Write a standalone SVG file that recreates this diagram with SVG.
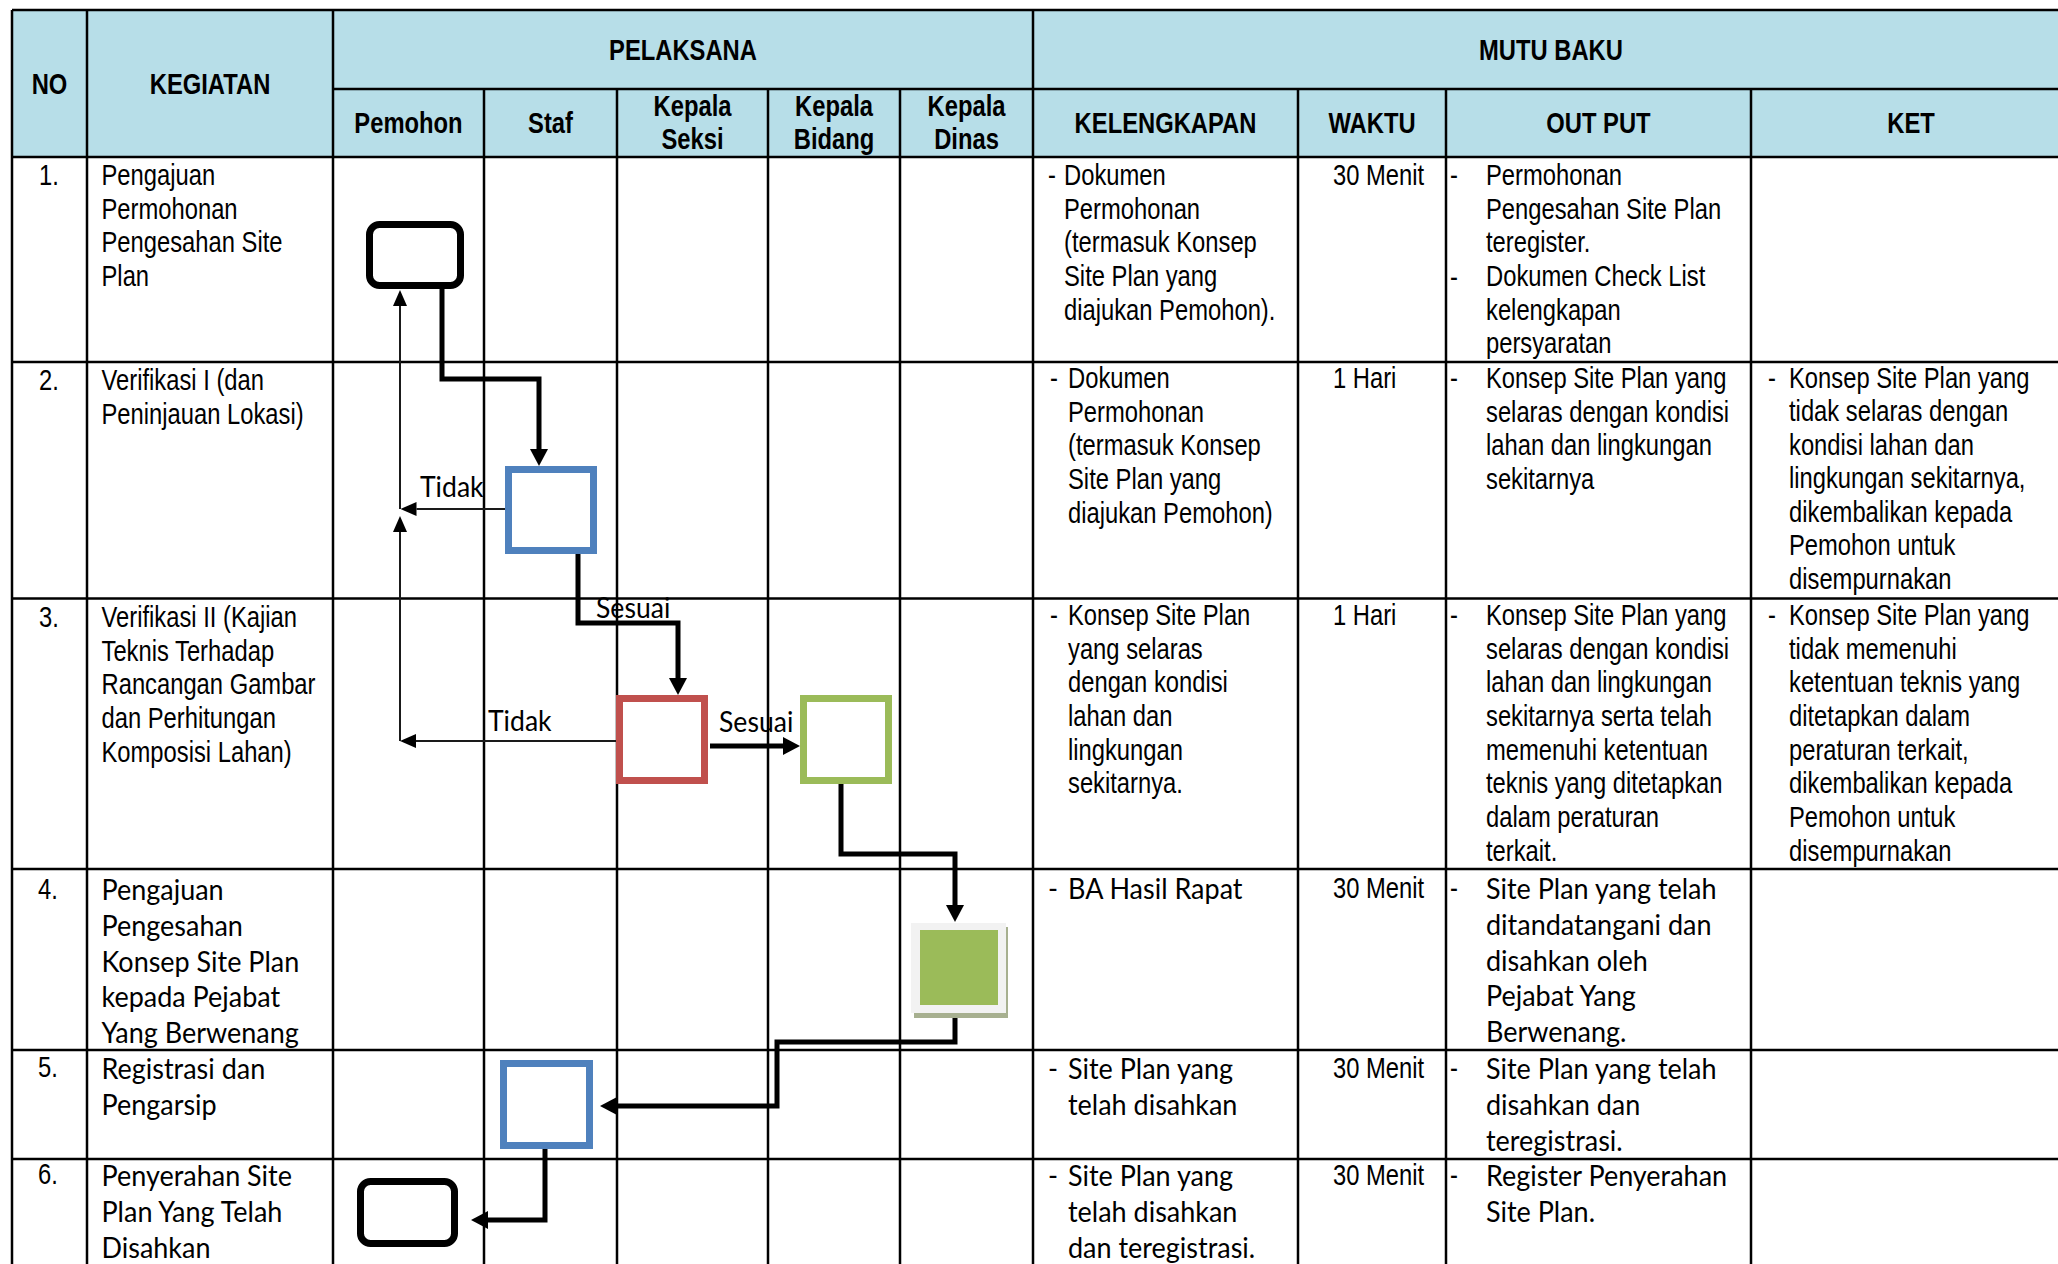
<svg xmlns="http://www.w3.org/2000/svg" width="2058" height="1264" viewBox="0 0 2058 1264">
<style>
.n{font-family:"Liberation Sans",Arial,sans-serif;font-size:29px;fill:#000}
.b{font-weight:bold}
.c{font-family:Lato,"Open Sans",sans-serif;font-size:29px;fill:#000}
.lb{font-family:Lato,"Open Sans",sans-serif;font-size:28px;fill:#000}
.grid line{stroke:#000;stroke-width:2.5}
.thick{fill:none;stroke:#000;stroke-width:5}
.thin{fill:none;stroke:#1a1a1a;stroke-width:2}
</style>
<defs>
<marker id="ah" markerUnits="userSpaceOnUse" markerWidth="17" markerHeight="18" refX="0" refY="9" orient="auto" viewBox="0 0 17 18">
<path d="M0,0 L17,9 L0,18 z" fill="#000"/>
</marker>
<marker id="at" markerUnits="userSpaceOnUse" markerWidth="16" markerHeight="14" refX="0" refY="7" orient="auto" viewBox="0 0 16 14">
<path d="M0,0 L16,7 L0,14 z" fill="#000"/>
</marker>
</defs>
<rect x="0" y="0" width="2058" height="1264" fill="#fff"/>
<rect x="12" y="10" width="2046" height="147" fill="#B7DEE8"/>
<g class="grid" id="grid">
<line x1="12" y1="10" x2="2058" y2="10"/>
<line x1="333" y1="89" x2="2058" y2="89"/>
<line x1="12" y1="157" x2="2058" y2="157"/>
<line x1="12" y1="362" x2="2058" y2="362"/>
<line x1="12" y1="598.5" x2="2058" y2="598.5"/>
<line x1="12" y1="869" x2="2058" y2="869"/>
<line x1="12" y1="1050" x2="2058" y2="1050"/>
<line x1="12" y1="1159" x2="2058" y2="1159"/>
<line x1="12" y1="10" x2="12" y2="1264"/>
<line x1="87" y1="10" x2="87" y2="1264"/>
<line x1="333" y1="10" x2="333" y2="1264"/>
<line x1="1033" y1="10" x2="1033" y2="1264"/>
<line x1="484" y1="89" x2="484" y2="1264"/>
<line x1="617" y1="89" x2="617" y2="1264"/>
<line x1="768" y1="89" x2="768" y2="1264"/>
<line x1="900" y1="89" x2="900" y2="1264"/>
<line x1="1298" y1="89" x2="1298" y2="1264"/>
<line x1="1446" y1="89" x2="1446" y2="1264"/>
<line x1="1751" y1="89" x2="1751" y2="1264"/>
</g>
<g id="header" text-anchor="middle">
<text class="n b" transform="translate(49.5,94) scale(0.82,1)">NO</text>
<text class="n b" transform="translate(210,94) scale(0.82,1)">KEGIATAN</text>
<text class="n b" transform="translate(683,60) scale(0.82,1)">PELAKSANA</text>
<text class="n b" transform="translate(1551,60) scale(0.82,1)">MUTU BAKU</text>
<text class="n b" transform="translate(408.5,133) scale(0.82,1)">Pemohon</text>
<text class="n b" transform="translate(550.5,133) scale(0.82,1)">Staf</text>
<text class="n b" transform="translate(692.5,116) scale(0.82,1)"><tspan x="0">Kepala</tspan><tspan x="0" dy="33">Seksi</tspan></text>
<text class="n b" transform="translate(834,116) scale(0.82,1)"><tspan x="0">Kepala</tspan><tspan x="0" dy="33">Bidang</tspan></text>
<text class="n b" transform="translate(966.5,116) scale(0.82,1)"><tspan x="0">Kepala</tspan><tspan x="0" dy="33">Dinas</tspan></text>
<text class="n b" transform="translate(1165.5,133) scale(0.82,1)">KELENGKAPAN</text>
<text class="n b" transform="translate(1372,133) scale(0.82,1)">WAKTU</text>
<text class="n b" transform="translate(1598.5,133) scale(0.82,1)">OUT PUT</text>
<text class="n b" transform="translate(1911,133) scale(0.82,1)">KET</text>
</g>
<g id="body-text">
<text class="n" transform="translate(39,185) scale(0.82,1)">1.</text>
<text class="n" transform="translate(39,390) scale(0.82,1)">2.</text>
<text class="n" transform="translate(39,627) scale(0.82,1)">3.</text>
<text class="n" transform="translate(38,899) scale(0.82,1)">4.</text>
<text class="n" transform="translate(38,1077) scale(0.82,1)">5.</text>
<text class="n" transform="translate(38,1184) scale(0.82,1)">6.</text>
<text class="n" transform="translate(101.5,185) scale(0.82,1)"><tspan x="0">Pengajuan</tspan><tspan x="0" dy="33.7">Permohonan</tspan><tspan x="0" dy="33.7">Pengesahan Site</tspan><tspan x="0" dy="33.7">Plan</tspan></text>
<text class="n" transform="translate(101.5,390) scale(0.82,1)"><tspan x="0">Verifikasi I (dan</tspan><tspan x="0" dy="33.7">Peninjauan Lokasi)</tspan></text>
<text class="n" transform="translate(101.5,627) scale(0.82,1)"><tspan x="0">Verifikasi II (Kajian</tspan><tspan x="0" dy="33.7">Teknis Terhadap</tspan><tspan x="0" dy="33.7">Rancangan Gambar</tspan><tspan x="0" dy="33.7">dan Perhitungan</tspan><tspan x="0" dy="33.7">Komposisi Lahan)</tspan></text>
<text class="c" transform="translate(101.5,900) scale(0.93,1)"><tspan x="0">Pengajuan</tspan><tspan x="0" dy="35.8">Pengesahan</tspan><tspan x="0" dy="35.8">Konsep Site Plan</tspan><tspan x="0" dy="35.8">kepada Pejabat</tspan><tspan x="0" dy="35.8">Yang Berwenang</tspan></text>
<text class="c" transform="translate(101.5,1079) scale(0.93,1)"><tspan x="0">Registrasi dan</tspan><tspan x="0" dy="35.8">Pengarsip</tspan></text>
<text class="c" transform="translate(101.5,1186) scale(0.93,1)"><tspan x="0">Penyerahan Site</tspan><tspan x="0" dy="35.8">Plan Yang Telah</tspan><tspan x="0" dy="35.8">Disahkan</tspan></text>

<text class="n" transform="translate(1048,185) scale(0.82,1)">-</text>
<text class="n" transform="translate(1064,185) scale(0.82,1)"><tspan x="0">Dokumen</tspan><tspan x="0" dy="33.7">Permohonan</tspan><tspan x="0" dy="33.7">(termasuk Konsep</tspan><tspan x="0" dy="33.7">Site Plan yang</tspan><tspan x="0" dy="33.7">diajukan Pemohon).</tspan></text>
<text class="n" transform="translate(1050,388) scale(0.82,1)">-</text>
<text class="n" transform="translate(1068,388) scale(0.82,1)"><tspan x="0">Dokumen</tspan><tspan x="0" dy="33.7">Permohonan</tspan><tspan x="0" dy="33.7">(termasuk Konsep</tspan><tspan x="0" dy="33.7">Site Plan yang</tspan><tspan x="0" dy="33.7">diajukan Pemohon)</tspan></text>
<text class="n" transform="translate(1050,625) scale(0.82,1)">-</text>
<text class="n" transform="translate(1068,625) scale(0.82,1)"><tspan x="0">Konsep Site Plan</tspan><tspan x="0" dy="33.7">yang selaras</tspan><tspan x="0" dy="33.7">dengan kondisi</tspan><tspan x="0" dy="33.7">lahan dan</tspan><tspan x="0" dy="33.7">lingkungan</tspan><tspan x="0" dy="33.7">sekitarnya.</tspan></text>
<text class="c" transform="translate(1048,899) scale(0.93,1)">-</text>
<text class="c" transform="translate(1068,899) scale(0.93,1)">BA Hasil Rapat</text>
<text class="c" transform="translate(1048,1079) scale(0.93,1)">-</text>
<text class="c" transform="translate(1068,1079) scale(0.93,1)"><tspan x="0">Site Plan yang</tspan><tspan x="0" dy="35.8">telah disahkan</tspan></text>
<text class="c" transform="translate(1048,1186) scale(0.93,1)">-</text>
<text class="c" transform="translate(1068,1186) scale(0.93,1)"><tspan x="0">Site Plan yang</tspan><tspan x="0" dy="35.8">telah disahkan</tspan><tspan x="0" dy="35.8">dan teregistrasi.</tspan></text>

<text class="n" transform="translate(1333,185) scale(0.82,1)">30 Menit</text>
<text class="n" transform="translate(1333,388) scale(0.82,1)">1 Hari</text>
<text class="n" transform="translate(1333,625) scale(0.82,1)">1 Hari</text>
<text class="n" transform="translate(1333,898) scale(0.82,1)">30 Menit</text>
<text class="n" transform="translate(1333,1078) scale(0.82,1)">30 Menit</text>
<text class="n" transform="translate(1333,1185) scale(0.82,1)">30 Menit</text>

<text class="n" transform="translate(1450,185) scale(0.82,1)">-</text>
<text class="n" transform="translate(1450,287) scale(0.82,1)">-</text>
<text class="n" transform="translate(1486,185) scale(0.82,1)"><tspan x="0">Permohonan</tspan><tspan x="0" dy="33.7">Pengesahan Site Plan</tspan><tspan x="0" dy="33.7">teregister.</tspan><tspan x="0" dy="33.7">Dokumen Check List</tspan><tspan x="0" dy="33.7">kelengkapan</tspan><tspan x="0" dy="33.7">persyaratan</tspan></text>
<text class="n" transform="translate(1450,388) scale(0.82,1)">-</text>
<text class="n" transform="translate(1486,388) scale(0.82,1)"><tspan x="0">Konsep Site Plan yang</tspan><tspan x="0" dy="33.7">selaras dengan kondisi</tspan><tspan x="0" dy="33.7">lahan dan lingkungan</tspan><tspan x="0" dy="33.7">sekitarnya</tspan></text>
<text class="n" transform="translate(1450,625) scale(0.82,1)">-</text>
<text class="n" transform="translate(1486,625) scale(0.82,1)"><tspan x="0">Konsep Site Plan yang</tspan><tspan x="0" dy="33.7">selaras dengan kondisi</tspan><tspan x="0" dy="33.7">lahan dan lingkungan</tspan><tspan x="0" dy="33.7">sekitarnya serta telah</tspan><tspan x="0" dy="33.7">memenuhi ketentuan</tspan><tspan x="0" dy="33.7">teknis yang ditetapkan</tspan><tspan x="0" dy="33.7">dalam peraturan</tspan><tspan x="0" dy="33.7">terkait.</tspan></text>
<text class="n" transform="translate(1450,898) scale(0.82,1)">-</text>
<text class="c" transform="translate(1486,899) scale(0.93,1)"><tspan x="0">Site Plan yang telah</tspan><tspan x="0" dy="35.8">ditandatangani dan</tspan><tspan x="0" dy="35.8">disahkan oleh</tspan><tspan x="0" dy="35.8">Pejabat Yang</tspan><tspan x="0" dy="35.8">Berwenang.</tspan></text>
<text class="n" transform="translate(1450,1078) scale(0.82,1)">-</text>
<text class="c" transform="translate(1486,1079) scale(0.93,1)"><tspan x="0">Site Plan yang telah</tspan><tspan x="0" dy="35.8">disahkan dan</tspan><tspan x="0" dy="35.8">teregistrasi.</tspan></text>
<text class="n" transform="translate(1450,1185) scale(0.82,1)">-</text>
<text class="c" transform="translate(1486,1186) scale(0.93,1)"><tspan x="0">Register Penyerahan</tspan><tspan x="0" dy="35.8">Site Plan.</tspan></text>

<text class="n" transform="translate(1768,388) scale(0.82,1)">-</text>
<text class="n" transform="translate(1789,388) scale(0.82,1)"><tspan x="0">Konsep Site Plan yang</tspan><tspan x="0" dy="33.5">tidak selaras dengan</tspan><tspan x="0" dy="33.5">kondisi lahan dan</tspan><tspan x="0" dy="33.5">lingkungan sekitarnya,</tspan><tspan x="0" dy="33.5">dikembalikan kepada</tspan><tspan x="0" dy="33.5">Pemohon untuk</tspan><tspan x="0" dy="33.5">disempurnakan</tspan></text>
<text class="n" transform="translate(1768,625) scale(0.82,1)">-</text>
<text class="n" transform="translate(1789,625) scale(0.82,1)"><tspan x="0">Konsep Site Plan yang</tspan><tspan x="0" dy="33.7">tidak memenuhi</tspan><tspan x="0" dy="33.7">ketentuan teknis yang</tspan><tspan x="0" dy="33.7">ditetapkan dalam</tspan><tspan x="0" dy="33.7">peraturan terkait,</tspan><tspan x="0" dy="33.7">dikembalikan kepada</tspan><tspan x="0" dy="33.7">Pemohon untuk</tspan><tspan x="0" dy="33.7">disempurnakan</tspan></text>
</g>
<g id="connectors">
<path class="thick" d="M442,287 V379 H539 V449" marker-end="url(#ah)"/>
<path class="thick" d="M578,553 V623 H678 V678" marker-end="url(#ah)"/>
<path class="thick" d="M710,746 H783" marker-end="url(#ah)"/>
<path class="thick" d="M841,783 V854 H955 V905" marker-end="url(#ah)"/>
<path class="thick" d="M955,1015 V1042 H777 V1106 H617" marker-end="url(#ah)"/>
<path class="thick" d="M545,1147 V1220 H488" marker-end="url(#ah)"/>
<path class="thin" d="M505,509 H416.5" marker-end="url(#at)"/>
<path class="thin" d="M616,741 H416" marker-end="url(#at)"/>
<path class="thin" d="M400,741 V532" marker-end="url(#at)"/>
<path class="thin" d="M400,509 V306" marker-end="url(#at)"/>
<text class="lb" transform="translate(420,497) scale(0.95,1)">Tidak</text>
<text class="lb" transform="translate(596,618) scale(0.95,1)">Sesuai</text>
<text class="lb" transform="translate(488,731) scale(0.95,1)">Tidak</text>
<text class="lb" transform="translate(719,732) scale(0.95,1)">Sesuai</text>
</g>
<g id="node1"><rect x="369.5" y="224.5" width="91" height="61" rx="10" fill="#fff" stroke="#000" stroke-width="7"/></g>
<g id="node2"><rect x="508.5" y="469.5" width="85" height="81" fill="#fff" stroke="#4F81BD" stroke-width="7"/></g>
<g id="node3"><rect x="619.5" y="698.5" width="85" height="82" fill="#fff" stroke="#C0504D" stroke-width="7"/></g>
<g id="node4"><rect x="803.5" y="698.5" width="85" height="82" fill="#fff" stroke="#9BBB59" stroke-width="7"/></g>
<g id="node5">
<rect x="914" y="927" width="94" height="91" fill="#A7B090"/>
<rect x="911" y="923" width="95" height="90" fill="#F2F2F2"/>
<rect x="920" y="930" width="78" height="75" fill="#9BBB59"/>
</g>
<g id="node6"><rect x="503.5" y="1063.5" width="86" height="82" fill="#fff" stroke="#4F81BD" stroke-width="7"/></g>
<g id="node7"><rect x="360.5" y="1181.5" width="94" height="62" rx="10" fill="#fff" stroke="#000" stroke-width="7"/></g>
</svg>
